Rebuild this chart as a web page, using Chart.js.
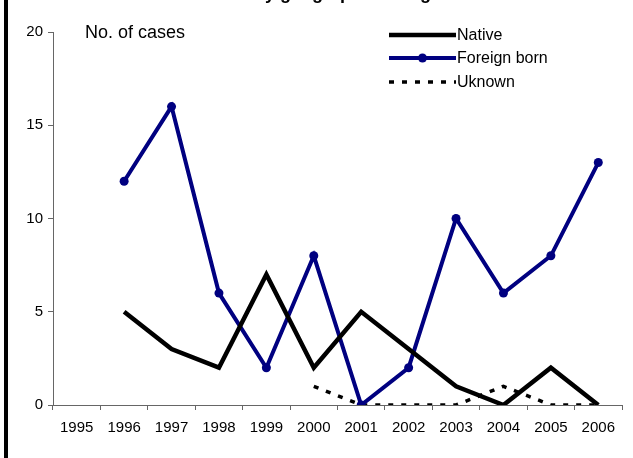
<!DOCTYPE html>
<html>
<head>
<meta charset="utf-8">
<script src="https://cdn.jsdelivr.net/npm/chart.js@4/dist/chart.umd.min.js"></script>
<style>
html,body{margin:0;padding:0;background:#fff;}
#wrap{width:633px;height:458px;position:relative;}
</style>
</head>
<body>
<div id="wrap"><canvas id="c" width="633" height="458"></canvas></div>
<script>
const years = ['1995','1996','1997','1998','1999','2000','2001','2002','2003','2004','2005','2006'];
const native = [null,5,3,2,7,2,5,3,1,0,2,0];
const foreignBorn = [null,12,16,6,2,8,0,2,10,6,8,13];
const unknown = [null,null,null,null,null,1,0,0,0,1,0,0];
const seriesNames = ['Native','Foreign born','Uknown'];
const yTicks = [0,5,10,15,20];
const yAxisTitle = 'No. of cases';
const chartTitle = 'Cases by geographical origin';

const FONT = '"Liberation Sans", Arial, sans-serif';
const AXIS = '#666666';
const NAVY = '#000080';

const decor = {
  id: 'decor',
  afterDraw(chart) {
    const ctx = chart.ctx;
    ctx.save();
    ctx.fillStyle = '#000';
    ctx.fillRect(4, 0, 4, 458);
    ctx.font = 'bold 18px ' + FONT;
    ctx.textAlign = 'right';
    ctx.textBaseline = 'alphabetic';
    ctx.fillText(chartTitle, 447, -1);
    ctx.font = '18px ' + FONT;
    ctx.textAlign = 'left';
    ctx.fillText(yAxisTitle, 85, 38);
    const rows = [35, 58, 82];
    const x0 = 389, x1 = 456;
    ctx.lineCap = 'butt';
    chart.data.datasets.forEach((ds, i) => {
      const y = rows[i];
      ctx.beginPath();
      ctx.strokeStyle = ds.borderColor;
      ctx.lineWidth = ds.borderWidth;
      ctx.setLineDash(ds.borderDash || []);
      ctx.moveTo(x0, y);
      ctx.lineTo(x1, y);
      ctx.stroke();
      ctx.setLineDash([]);
      if (ds.pointRadius > 0) {
        ctx.beginPath();
        ctx.fillStyle = ds.pointBackgroundColor;
        ctx.arc((x0 + x1) / 2, y, ds.pointRadius, 0, Math.PI * 2);
        ctx.fill();
      }
      ctx.fillStyle = '#000';
      ctx.font = '16px ' + FONT;
      ctx.textAlign = 'left';
      ctx.textBaseline = 'middle';
      ctx.fillText(ds.label, 457, y + 1);
    });
    ctx.restore();
  }
};

new Chart(document.getElementById('c'), {
  type: 'line',
  data: {
    labels: years,
    datasets: [
      { label: seriesNames[0], data: native, borderColor: '#000', backgroundColor: '#000', borderWidth: 4.5, pointRadius: 0, tension: 0 },
      { label: seriesNames[1], data: foreignBorn, borderColor: NAVY, backgroundColor: NAVY, pointBackgroundColor: NAVY, pointBorderColor: NAVY, borderWidth: 4, pointRadius: 4.5, pointBorderWidth: 0, tension: 0 },
      { label: seriesNames[2], data: unknown, borderColor: '#000', backgroundColor: '#000', borderWidth: 3.5, borderDash: [5, 8], pointRadius: 0, tension: 0 }
    ]
  },
  options: {
    responsive: false,
    animation: false,
    layout: { padding: { top: 32, right: 11, left: 0, bottom: 0 } },
    plugins: { legend: { display: false }, tooltip: { enabled: false }, title: { display: false } },
    scales: {
      x: {
        type: 'category',
        offset: true,
        grid: { offset: true, drawOnChartArea: false, tickLength: 5, color: AXIS, tickColor: AXIS },
        border: { color: AXIS, width: 1 },
        ticks: { color: '#000', font: { family: FONT, size: 15 }, padding: 9, maxRotation: 0, autoSkip: false },
        afterFit(s) { s.height = 53; }
      },
      y: {
        min: 0, max: 20,
        afterBuildTicks(s) { s.ticks = yTicks.map(v => ({ value: v })); },
        grid: { drawOnChartArea: false, tickLength: 5, color: AXIS, tickColor: AXIS },
        border: { color: AXIS, width: 1 },
        ticks: { color: '#000', font: { family: FONT, size: 15 }, padding: 5 },
        afterFit(s) { s.width = 53; }
      }
    }
  },
  plugins: [decor]
});
</script>
</body>
</html>
